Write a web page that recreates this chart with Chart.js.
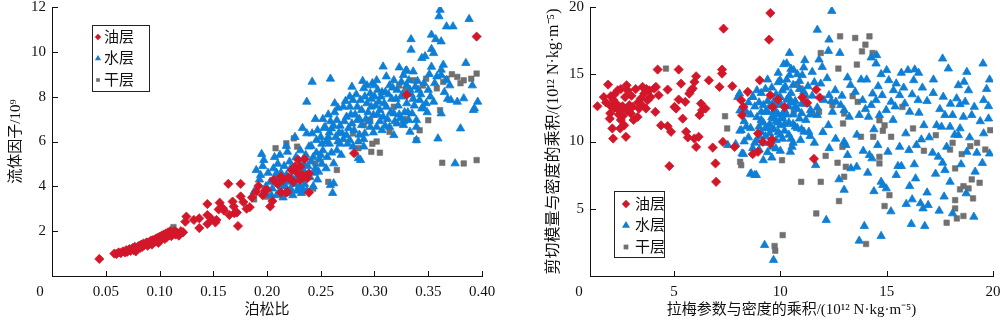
<!DOCTYPE html>
<html>
<head>
<meta charset="utf-8">
<script src="https://cdn.jsdelivr.net/npm/chart.js@4/dist/chart.umd.min.js"></script>
<style>
    html, body { margin: 0; padding: 0; background: #fff; }
    #wrap { position: relative; width: 1000px; height: 321px; }
    #wrap canvas { position: absolute; top: 0; }
</style>
</head>
<body>
<div id="wrap">
    <canvas id="poissonChart" width="500" height="321" style="left:0"></canvas>
    <canvas id="lameChart" width="500" height="321" style="left:500px"></canvas>
</div>
<script>
/* data */
var seriesNames = ['油层', '水层', '干层'];

var leftXTicks = [0.05, 0.10, 0.15, 0.20, 0.25, 0.30, 0.35, 0.40];
var leftYTicks = [2, 4, 6, 8, 10, 12];
var rightXTicks = [5, 10, 15, 20];
var rightYTicks = [5, 10, 15, 20];

// left: poisson ratio vs fluid factor
var poissonOil = [
    [0.044,0.76],[0.058,1.0],[0.060,0.98],[0.062,1.05],[0.064,1.02],[0.066,1.1],[0.068,1.05],[0.069,1.15],
    [0.070,1.08],[0.072,1.2],[0.073,1.12],[0.075,1.25],[0.076,1.15],[0.077,1.3],[0.078,1.1],[0.079,1.22],
    [0.080,1.3],[0.081,1.35],[0.082,1.25],[0.083,1.4],[0.084,1.3],[0.085,1.45],[0.086,1.38],[0.087,1.42],
    [0.088,1.5],[0.089,1.35],[0.090,1.5],[0.091,1.45],[0.092,1.58],[0.093,1.4],[0.094,1.6],[0.095,1.52],
    [0.096,1.65],[0.097,1.55],[0.098,1.7],[0.099,1.48],[0.100,1.75],[0.101,1.62],[0.102,1.8],[0.103,1.7],
    [0.104,1.85],[0.105,1.65],[0.106,1.9],[0.107,1.75],[0.108,1.95],[0.109,1.82],[0.110,2.0],[0.111,1.78],
    [0.112,1.9],[0.114,2.0],[0.115,1.85],[0.116,1.95],[0.118,1.8],[0.120,2.0],[0.122,1.95],
    [0.124,2.42],[0.125,2.65],[0.132,2.5],[0.137,2.14],[0.137,2.57],[0.1445,3.21],[0.1445,2.72],[0.1445,2.32],
    [0.148,2.57],[0.152,2.39],[0.153,2.5],[0.155,2.97],[0.156,3.27],[0.159,3.02],[0.16,2.92],[0.164,4.11],
    [0.165,2.72],[0.168,3.32],[0.169,3.1],[0.1695,2.8],[0.172,2.83],[0.173,2.23],[0.1755,4.11],[0.1755,3.55],
    [0.181,3.0],[0.184,3.07],[0.19,3.76],[0.192,4.02],[0.198,3.81],[0.2,3.84],[0.203,3.1],[0.205,3.34],
    [0.206,4.29],[0.213,4.43],[0.213,3.72],[0.215,4.29],[0.218,3.72],[0.219,3.76],[0.223,4.73],[0.2245,4.2],
    [0.226,4.88],[0.229,5.18],[0.231,4.29],[0.231,4.88],[0.235,5.21],[0.2375,4.36],[0.239,4.58],[0.239,3.72],
    [0.178,3.3],[0.186,3.5],[0.196,3.6],[0.21,4.1],[0.22,4.4],[0.228,4.6],[0.233,4.5],
    [0.281,5.48],[0.33,8.08],[0.395,10.68]
];
var poissonWater = [
    [0.361,11.87],[0.36,11.58],[0.367,11.13],[0.373,11.13],[0.388,11.46],[0.353,10.76],[0.334,10.56],[0.334,10.09],
    [0.357,10.56],[0.362,10.46],[0.353,10.12],[0.355,9.94],[0.344,9.72],[0.364,9.42],[0.362,9.2],[0.308,9.34],
    [0.33,9.17],[0.336,9.12],
    [0.195,5.44],[0.197,5.17],[0.19,4.72],[0.194,4.5],[0.188,3.76],[0.212,5.4],[0.219,5.54],[0.237,7.77],
    [0.242,8.66],[0.237,6.36],[0.242,6.36],[0.246,6.06],[0.25,6.2],[0.239,5.77],[0.243,5.3],[0.234,5.0],
    [0.248,4.65],[0.251,5.0],[0.259,4.05],[0.262,4.13],[0.262,5.02],[0.259,8.8],[0.263,7.7],
    [0.201,4.6],[0.203,4.2],[0.205,3.9],[0.206,4.8],[0.208,4.4],[0.209,3.6],[0.21,5.0],[0.211,4.1],
    [0.212,3.8],[0.213,4.6],[0.214,4.3],[0.215,3.5],[0.216,4.9],[0.217,4.0],[0.218,4.5],[0.219,3.7],
    [0.22,4.2],[0.221,5.1],[0.222,3.9],[0.223,4.4],[0.224,3.6],[0.225,4.7],[0.226,4.1],[0.227,5.3],
    [0.228,3.8],[0.229,4.5],[0.23,4.0],[0.231,5.6],[0.232,4.3],[0.233,3.9],[0.234,4.7],[0.235,4.1],
    [0.236,5.4],[0.237,3.8],[0.238,4.9],[0.24,4.4],[0.241,5.8],[0.243,4.0],[0.244,4.6],[0.246,5.5],
    [0.247,4.3],[0.249,5.2],[0.199,4.0],[0.196,4.9],[0.193,4.3],[0.198,3.7],[0.207,5.3],[0.218,5.8],
    [0.226,6.2],[0.233,6.6],[0.245,7.0],[0.252,5.6],[0.255,4.8],[0.258,5.9],[0.253,6.6],[0.257,7.2],
    [0.264,6.2],[0.261,3.7],
    [0.259,6.9],[0.26,6.58],[0.265,6.95],[0.268,6.7],[0.271,7.55],[0.274,7.1],[0.277,8.0],[0.277,7.55],
    [0.279,8.44],[0.28,7.85],[0.284,7.55],[0.287,7.85],[0.29,8.37],[0.291,8.0],[0.293,7.7],[0.296,8.15],
    [0.297,7.55],[0.299,7.18],[0.27,6.36],[0.274,6.28],[0.277,6.06],[0.28,5.77],[0.285,5.25],[0.287,5.17],
    [0.265,5.6],[0.268,5.9],[0.256,5.3],[0.257,6.2],[0.254,6.65],[0.251,5.9],[0.29,5.77],[0.291,6.36],
    [0.296,6.65],[0.284,6.95],[0.288,6.73],[0.263,7.3],[0.272,6.9],[0.282,7.2],[0.276,6.6],[0.286,6.3],
    [0.294,7.3],[0.266,6.0],[0.279,6.8],[0.298,8.6],[0.289,8.7],
    [0.3,8.5],[0.302,8.73],[0.3,8.0],[0.304,7.77],[0.307,8.2],[0.311,8.9],[0.314,8.5],[0.318,8.73],
    [0.321,8.3],[0.325,8.66],[0.327,8.96],[0.329,9.15],[0.332,8.73],[0.333,8.3],[0.338,8.44],[0.341,8.3],
    [0.342,7.85],[0.345,7.55],[0.348,7.7],[0.305,7.4],[0.308,7.1],[0.311,7.55],[0.314,6.65],[0.318,7.25],
    [0.321,6.8],[0.324,7.03],[0.327,6.73],[0.332,6.95],[0.335,7.25],[0.339,6.95],[0.339,6.65],[0.302,6.65],
    [0.307,6.5],[0.318,6.28],[0.333,6.43],[0.339,6.06],[0.344,7.47],[0.31,8.2],[0.316,7.9],[0.322,7.6],
    [0.326,8.1],[0.312,7.0],[0.33,7.7],[0.336,7.9],[0.303,7.2],[0.323,9.3],[0.328,7.3],
    [0.353,9.33],[0.358,8.9],[0.362,8.96],[0.367,8.73],[0.37,8.5],[0.371,7.85],[0.377,7.77],[0.383,7.92],
    [0.391,8.5],[0.396,7.77],[0.393,7.47],[0.38,6.58],[0.355,7.77],[0.362,7.25],[0.359,6.13],[0.375,5.02],
    [0.352,8.0],[0.347,9.8],[0.35,8.3],[0.385,9.5],[0.392,7.4],
    [0.247,6.5],[0.252,7.0],[0.255,6.0],[0.258,6.4],[0.26,5.5],[0.262,6.7],[0.266,7.5],[0.267,6.4],
    [0.269,5.4],[0.271,6.1],[0.273,7.8],[0.275,5.9],[0.278,7.2],[0.281,6.5],[0.283,8.1],[0.285,6.0],
    [0.286,7.0],[0.288,7.4],[0.29,6.1],[0.292,7.0],[0.293,8.5],[0.295,6.9],[0.297,7.9],[0.299,6.4],
    [0.301,7.6],[0.303,8.3],[0.305,6.9],[0.306,8.0],[0.309,7.7],[0.31,6.7],[0.313,8.1],[0.315,7.3],
    [0.317,8.4],[0.319,6.9],[0.32,7.9],[0.323,7.2],[0.325,8.0],[0.327,6.9],[0.33,8.5],[0.331,7.3],
    [0.334,8.1],[0.337,7.6],[0.34,8.7],[0.343,8.1],[0.346,8.6],[0.349,7.3],[0.351,9.0],[0.356,8.6],
    [0.365,8.2],[0.368,7.9],[0.222,4.8],[0.228,4.3],[0.214,4.0],[0.209,4.6],[0.236,4.4],[0.241,5.1],
    [0.245,4.8],[0.25,5.4],[0.204,3.6],[0.232,3.7]
];
var poissonDry = [
    [0.113,2.18],[0.336,8.73],[0.348,8.8],[0.358,8.37],[0.364,8.66],[0.367,8.8],[0.377,8.88],[0.383,8.73],
    [0.395,9.03],[0.363,5.05],[0.383,5.02],[0.395,5.17],[0.339,6.06],[0.342,6.5],[0.35,6.95],[0.361,7.4],
    [0.314,6.43],[0.302,6.0],[0.297,5.54],[0.29,6.73],[0.318,7.55],[0.329,8.3],[0.28,6.36],[0.225,6.14],
    [0.218,5.92],[0.208,5.7],[0.228,5.77],[0.245,5.02],[0.265,4.73],[0.243,3.9],[0.188,3.42],[0.2,3.54],
    [0.285,5.7],[0.296,6.95],[0.372,9.0],[0.38,8.6],[0.39,8.8],[0.345,8.5],[0.305,5.5],[0.298,5.9],
    [0.33,7.0],[0.323,8.5],[0.257,4.2]
];

// right: lame parameter * density vs shear modulus * density
var lameOil = [
    [1.4,12.62],[1.9,14.23],[2.03,13.37],[2.03,12.62],[2.14,13.1],[1.98,11.7],[2.1,10.97],[2.14,10.22],
    [2.35,13.8],[2.3,12.8],[2.42,12.3],[2.5,11.6],[2.47,10.97],[2.58,12.62],[2.7,13.3],[2.77,14.18],
    [2.82,13.8],[2.74,10.35],[2.66,11.2],[2.9,12.7],[2.97,12.08],[3.05,12.57],[3.2,13.9],[3.29,11.83],
    [3.36,12.45],[3.44,13.2],[3.52,14.06],[3.6,13.56],[3.68,12.45],[3.76,13.07],[3.84,13.8],[3.9,13.3],
    [4.07,13.94],[4.15,14.06],[4.28,13.44],[4.12,12.2],[4.23,15.35],[4.39,11.2],[4.7,11.14],[4.7,13.86],
    [4.78,8.17],[4.86,10.72],[5.02,12.57],[5.1,12.45],[5.22,15.35],[5.22,13.12],[5.33,14.3],[5.41,11.7],
    [5.53,12.95],[5.57,10.72],[5.65,10.3],[5.72,13.56],[5.8,13.8],[5.88,13.94],[5.96,14.43],[6.04,14.85],
    [5.96,10.22],[6.04,9.6],[6.16,10.35],[6.2,11.96],[6.27,12.82],[6.32,12.33],[6.48,12.45],[6.64,14.55],
    [6.82,9.55],[6.95,8.37],[6.98,7.0],[7.14,14.06],[7.26,15.35],[7.26,15.05],[7.33,18.39],[7.3,9.97],
    [7.74,14.11],[7.85,9.6],[8.16,13.07],[8.2,11.96],[8.27,12.57],[8.47,13.69],[8.7,9.06],[8.95,10.6],
    [9.03,14.55],[8.95,9.23],[9.18,9.97],[9.53,19.55],[9.47,17.57],[9.53,13.44],[9.89,13.12],[9.64,12.57],
    [10.2,12.57],[9.6,10.15],[9.53,9.85],[11.03,13.27],[11.26,12.87],[11.69,13.86],[11.85,13.27],[11.58,8.71],
    [1.8,12.9],[2.2,12.5],[2.4,12.0],[2.6,11.9],[2.8,12.3],[3.0,13.4],[3.1,11.6],[3.3,12.9],
    [3.5,12.7],[2.2,13.5],[1.7,13.3],[2.5,13.9],[3.7,13.9],[2.0,12.1]
];
var lameWater = [
    [7.9,9.8],[8.0,13.3],[8.1,10.8],[8.2,9.1],[8.3,11.5],[8.4,12.2],[8.5,10.3],[8.6,7.6],
    [8.7,13.3],[8.8,7.5],[8.6,11.0],[8.7,9.5],[8.8,12.6],[8.9,10.1],[8.9,11.8],[9.0,12.9],
    [9.0,9.4],[9.1,10.7],[9.1,13.6],[9.2,11.4],[9.2,9.9],[9.3,12.2],[9.3,10.4],[9.4,13.0],
    [9.4,11.0],[9.4,9.2],[9.5,12.6],[9.5,10.6],[9.6,11.8],[9.6,14.0],[9.6,9.6],[9.7,12.3],
    [9.7,10.9],[9.8,13.5],[9.8,11.5],[9.8,10.1],[9.9,12.0],[9.9,14.4],[10.0,11.2],[10.0,12.8],
    [10.0,10.5],[10.1,13.8],[10.1,11.7],[10.2,12.3],[10.2,10.8],[10.3,14.6],[10.3,13.1],[10.4,11.4],
    [10.4,12.6],[10.5,13.6],[10.5,10.2],[10.6,12.0],[10.6,14.2],[10.7,11.1],[10.7,13.0],[10.8,12.4],
    [10.8,15.0],[10.9,11.7],[10.9,13.9],[11.0,12.8],[11.0,10.9],[9.0,11.1],[9.2,12.7],[9.5,11.3],
    [9.7,13.0],[9.9,10.7],[10.1,12.0],[10.4,13.3],[10.6,11.3],[9.3,13.9],[9.1,12.2],[8.9,13.8],
    [9.8,12.7],[10.2,14.0],[10.9,14.5],[10.5,15.4],[9.4,14.6],[9.9,15.1],[10.3,15.8],[8.5,12.9],
    [8.3,10.0],[8.1,12.3],[9.6,8.8],[9.2,8.6],[10.0,9.3],[10.6,9.9],[11.2,11.6],[11.3,14.1],
    [11.5,13.4],[11.1,15.5],[11.4,10.4],
    [8.08,13.56],[8.16,10.84],[8.27,9.06],[8.63,7.62],[8.87,7.5],[8.71,13.32],[7.53,9.73],[9.26,2.3],
    [12.42,19.7],[11.74,18.3],[12.29,17.57],[12.26,16.73],[10.43,16.58],[11.15,16.04],[11.82,16.09],[12.8,16.58],
    [10.16,15.74],[10.63,15.3],[11.03,14.93],[11.5,15.17],[11.97,15.54],[13.16,14.75],[14.06,14.6],[14.27,16.24],
    [14.53,16.41],[14.5,15.79],[14.74,15.0],[15.1,14.55],[15.45,14.31],[15.69,15.1],[16.0,15.3],[16.32,15.35],
    [16.27,14.55],[16.68,14.0],[17.19,13.6],[17.63,16.16],[17.9,15.42],[17.66,13.32],[18.37,14.18],[18.77,15.17],
    [18.64,14.43],[18.85,13.8],[19.53,15.79],[19.84,14.6],[19.56,13.07],[19.79,12.62],[19.79,11.7],[19.56,10.6],
    [19.84,9.1],[19.24,9.16],[18.77,9.23],[18.74,6.14],[19.16,7.75],[17.98,7.0],[18.1,4.65],[17.47,4.85],
    [16.79,3.71],[16.16,3.86],[15.92,5.35],[16.2,5.69],[16.36,7.25],[16.08,6.68],[16.59,5.4],[16.71,5.02],
    [16.95,5.27],[16.63,10.15],[16.4,9.73],[16.05,9.36],[17.16,9.16],[17.43,8.86],[17.63,8.42],[17.74,7.87],
    [17.82,9.6],[18.37,10.47],[18.45,10.97],[18.1,11.96],[17.74,11.96],[17.35,11.21],[17.58,11.09],[17.98,11.09],
    [18.61,11.83],[19.0,11.96],[18.69,12.95],[19.12,12.57],[18.45,12.77],[18.29,13.2],[16.75,11.21],[16.52,12.13],
    [16.48,13.07],[16.08,12.2],[15.85,12.82],[15.61,13.44],[15.32,13.81],[15.21,12.95],[14.98,12.33],[14.79,13.44],
    [14.5,13.07],[14.27,12.7],[14.15,11.83],[14.66,11.96],[14.34,13.56],[13.87,13.07],[13.52,13.69],[13.71,11.96],
    [13.24,11.83],[13.0,12.33],[12.84,12.7],[12.61,12.95],[12.58,13.81],[12.29,13.44],[12.05,13.07],[11.74,12.52],
    [11.42,12.33],[12.45,12.2],[12.26,11.21],[11.74,11.96],[11.11,10.72],[11.34,10.72],[10.95,10.1],[10.55,9.6],
    [10.47,9.23],[9.79,9.48],[10.08,11.83],[13.0,9.98],[13.08,9.73],[13.16,8.99],[13.32,8.0],[13.59,8.12],
    [14.11,7.67],[14.19,8.99],[14.31,8.74],[14.58,9.73],[15.06,9.23],[15.61,9.6],[15.53,8.17],[15.69,8.17],
    [15.45,7.5],[14.74,7.0],[14.82,6.76],[14.98,6.51],[12.76,7.18],[12.16,4.16],[13.95,3.71],[13.71,2.62],
    [14.74,2.97],[11.66,8.24],[9.68,1.19],[11.18,13.44],[10.43,14.93],[10.24,14.06],[9.99,14.55],
    [8.4,11.1],[8.6,12.0],[8.8,9.9],[9.0,10.4],[9.1,11.6],[9.3,11.0],[9.4,12.2],[9.5,9.9],
    [9.6,10.9],[9.7,11.7],[9.8,12.2],[9.9,11.4],[10.0,13.3],[10.1,10.2],[10.2,11.3],[10.3,12.0],
    [10.4,10.5],[10.5,12.9],[10.7,12.6],[10.8,11.0],[11.0,12.1],[11.1,13.7],[11.2,12.8],[11.4,12.0],
    [11.6,14.4],[11.9,14.3],[12.2,14.7],[12.4,13.0],[12.9,13.4],[13.3,14.2],[13.8,14.6],[14.0,12.4],
    [14.6,14.1],[15.0,15.3],[15.4,12.6],[15.8,14.0],[16.2,13.5],[16.5,15.1],[16.9,13.0],[17.2,14.6],
    [17.5,12.4],[18.0,12.8],[18.2,10.5],[18.9,10.3],[19.4,11.5],[19.7,13.9],[17.0,10.3],[16.3,8.3],
    [15.9,10.6],[15.3,11.6],[14.4,10.9],[13.6,10.5],[13.9,9.3],[12.6,10.2],[12.3,9.5],[12.0,10.7],
    [11.6,9.9],[17.3,7.6],[18.5,8.3],[19.5,8.4],[14.4,6.3],[13.0,6.4],[15.2,4.8],[16.9,6.2],
    [19.1,4.4],[17.7,5.9]
];
var lameDry = [
    [4.62,15.42],[7.4,11.88],[7.5,10.97],[8.11,8.49],[8.16,8.24],
    [12.81,17.82],[13.52,17.7],[14.19,17.82],[14.0,17.2],[13.84,16.7],[14.34,16.58],[11.9,16.58],[12.73,15.42],
    [13.6,15.72],[10.79,14.26],[10.95,13.94],[11.18,12.95],[10.63,12.2],[11.5,12.08],[11.82,12.2],[12.45,12.7],
    [13.0,12.08],[12.95,11.34],[13.4,13.37],[13.64,12.95],[14.66,11.58],[14.9,11.2],[14.82,10.8],[15.21,10.35],
    [13.79,10.35],[14.37,10.35],[12.92,9.6],[12.13,8.93],[12.69,8.42],[13.08,8.12],[13.0,7.38],[14.66,8.86],
    [14.66,8.37],[15.13,6.01],[14.9,5.2],[12.76,5.57],[11.69,4.65],[11.9,7.0],[10.98,7.0],[10.08,8.61],
    [10.11,3.04],[9.73,2.23],[9.76,1.88],[14.03,2.38],[15.74,12.57],[16.24,10.97],[16.75,9.31],[17.31,10.47],
    [17.98,9.4],[18.1,9.9],[18.22,8.0],[18.53,9.06],[18.93,9.65],[19.25,9.9],[19.64,9.4],[19.87,10.84],
    [19.0,7.18],[19.37,6.93],[18.61,6.68],[18.45,6.44],[18.85,6.51],[19.06,5.77],[18.22,5.64],[18.22,5.02],
    [18.3,4.28],[18.61,4.46],[17.82,3.96]
];

var oilColor = '#d3172a';
var waterColor = '#0e7fd5';
var dryColor = '#707070';
var numFont = { family: '"Liberation Serif", "Times New Roman", serif', size: 15 };
var titleFont = { family: '"Liberation Serif", "Noto Sans CJK SC", serif', size: 15 };
var bigTitleFont = { family: '"Liberation Serif", "Noto Sans CJK SC", serif', size: 16 };

function toPoints(arr) {
    return arr.map(function (p) { return { x: p[0], y: p[1] }; });
}

// small marker shapes for the boxed legend
function drawMarker(ctx, shape, x, y, color, s) {
    ctx.fillStyle = color;
    ctx.beginPath();
    if (shape === 'rectRot') {
        ctx.moveTo(x, y - s); ctx.lineTo(x + s, y); ctx.lineTo(x, y + s); ctx.lineTo(x - s, y);
    } else if (shape === 'triangle') {
        ctx.moveTo(x, y - s); ctx.lineTo(x + s * 0.87, y + s / 2); ctx.lineTo(x - s * 0.87, y + s / 2);
    } else {
        ctx.rect(x - s * 0.7, y - s * 0.7, s * 1.4, s * 1.4);
    }
    ctx.closePath();
    ctx.fill();
}

// inward tick marks, the shared "0" at the corner and the boxed legend
var decorPlugin = {
    id: 'decor',
    afterDraw: function (chart, args, opts) {
        var ctx = chart.ctx;
        var area = chart.chartArea;
        var xs = chart.scales.x, ys = chart.scales.y;
        ctx.save();
        ctx.strokeStyle = '#111';
        ctx.lineWidth = 1;
        ctx.beginPath();
        xs.ticks.forEach(function (t) {
            var px = Math.round(xs.getPixelForValue(t.value)) + 0.5;
            ctx.moveTo(px, area.bottom);
            ctx.lineTo(px, area.bottom - 5);
        });
        ys.ticks.forEach(function (t) {
            var py = Math.round(ys.getPixelForValue(t.value)) + 0.5;
            ctx.moveTo(area.left, py);
            ctx.lineTo(area.left + 6, py);
        });
        ctx.stroke();

        ctx.fillStyle = '#111';
        ctx.font = numFont.size + 'px ' + numFont.family;
        ctx.textAlign = 'center';
        ctx.textBaseline = 'middle';
        ctx.fillText('0', area.left - opts.zeroDx, area.bottom + 16);

        // legend box
        var lg = opts.legend;
        ctx.strokeStyle = '#222';
        ctx.strokeRect(lg.x + 0.5, lg.y + 0.5, lg.w, lg.h);
        var shapes = ['rectRot', 'triangle', 'rect'];
        var colors = [oilColor, waterColor, dryColor];
        ctx.font = titleFont.size + 'px ' + titleFont.family;
        ctx.textAlign = 'left';
        for (var i = 0; i < seriesNames.length; i++) {
            var cy = lg.y + lg.row0 + i * lg.rowGap;
            drawMarker(ctx, shapes[i], lg.x + lg.mx, cy, colors[i], lg.ms[i]);
            ctx.fillStyle = '#111';
            ctx.fillText(seriesNames[i], lg.x + lg.tx, cy + 1);
        }
        ctx.restore();
    }
};

function makeDatasets(oil, water, dry) {
    return [{
        label: seriesNames[0], data: toPoints(oil),
        pointStyle: 'rectRot', pointRadius: 4.6, backgroundColor: oilColor,
        borderColor: oilColor, borderWidth: 0.8
    }, {
        label: seriesNames[1], data: toPoints(water),
        pointStyle: 'triangle', pointRadius: 4.8, backgroundColor: waterColor,
        borderColor: waterColor, borderWidth: 0.8
    }, {
        label: seriesNames[2], data: toPoints(dry),
        pointStyle: 'rect', pointRadius: 3.9, backgroundColor: dryColor,
        borderColor: dryColor, borderWidth: 0.6
    }];
}

function makeOptions(cfg) {
    return {
        responsive: false,
        animation: false,
        events: [],
        layout: { padding: cfg.padding },
        plugins: {
            legend: { display: false },
            tooltip: { enabled: false },
            decor: { zeroDx: cfg.zeroDx, legend: cfg.legend }
        },
        scales: {
            x: {
                type: 'linear', min: cfg.xMin, max: cfg.xMax,
                afterBuildTicks: function (s) { s.ticks = cfg.xTicks.map(function (v) { return { value: v }; }); },
                afterFit: function (s) { s.height = 45; s.paddingLeft = 0; s.paddingRight = 0; },
                ticks: { font: numFont, color: '#111', padding: 7, maxRotation: 0, autoSkip: false,
                    callback: cfg.xFormat },
                grid: { drawOnChartArea: false, drawTicks: false },
                border: { display: true, color: '#111', width: 1 },
                title: { display: true, text: cfg.xTitle, font: titleFont, color: '#111',
                    padding: { top: 0, bottom: 2 } }
            },
            y: {
                type: 'linear', min: 0, max: cfg.yMax,
                afterBuildTicks: function (s) { s.ticks = cfg.yTicks.map(function (v) { return { value: v }; }); },
                afterFit: function (s) { s.width = cfg.yWidth; s.paddingTop = 0; s.paddingBottom = 0; },
                ticks: { font: numFont, color: '#111', padding: 6, autoSkip: false,
                    callback: function (v) { return String(v); } },
                grid: { drawOnChartArea: false, drawTicks: false },
                border: { display: true, color: '#111', width: 1 },
                title: { display: true, text: cfg.yTitle, font: cfg.yTitleFont, color: '#111',
                    padding: { top: cfg.yTitlePad, bottom: 0 } }
            }
        }
    };
}

document.addEventListener('DOMContentLoaded', function () {
    // Poisson ratio vs fluid factor
    var poissonCanvas = document.getElementById('poissonChart').getContext('2d');
    var poissonChart = new Chart(poissonCanvas, {
        type: 'scatter',
        data: { datasets: makeDatasets(poissonOil, poissonWater, poissonDry) },
        options: makeOptions({
            padding: { left: 0, right: 18, top: 7, bottom: 0 },
            xMin: 0, xMax: 0.40, yMax: 12,
            xTicks: leftXTicks, yTicks: leftYTicks,
            xFormat: function (v) { return v.toFixed(2); },
            xTitle: '泊松比', yTitle: '流体因子/10⁹', yTitleFont: titleFont,
            yWidth: 52, yTitlePad: 7, zeroDx: 12,
            legend: { x: 92, y: 25, w: 57, h: 66, row0: 12, rowGap: 21.5, mx: 6, tx: 12, ms: [3.2, 3.6, 2.6] }
        }),
        plugins: [decorPlugin]
    });

    // Lame parameter * density vs shear modulus * density
    var lameCanvas = document.getElementById('lameChart').getContext('2d');
    var lameChart = new Chart(lameCanvas, {
        type: 'scatter',
        data: { datasets: makeDatasets(lameOil, lameWater, lameDry) },
        options: makeOptions({
            padding: { left: 40, right: 7, top: 7, bottom: 0 },
            xMin: 1.05, xMax: 20, yMax: 20,
            xTicks: rightXTicks, yTicks: rightYTicks,
            xFormat: function (v) { return String(v); },
            xTitle: '拉梅参数与密度的乘积/(10¹² N·kg·m⁻⁵)',
            yTitle: '剪切模量与密度的乘积/(10¹² N·kg·m⁻⁵)', yTitleFont: bigTitleFont,
            yWidth: 50, yTitlePad: 4, zeroDx: 11,
            legend: { x: 114, y: 191, w: 50, h: 66, row0: 13, rowGap: 21.5, mx: 12, tx: 21, ms: [4.2, 4.6, 3.4] }
        }),
        plugins: [decorPlugin]
    });
});
</script>
</body>
</html>
